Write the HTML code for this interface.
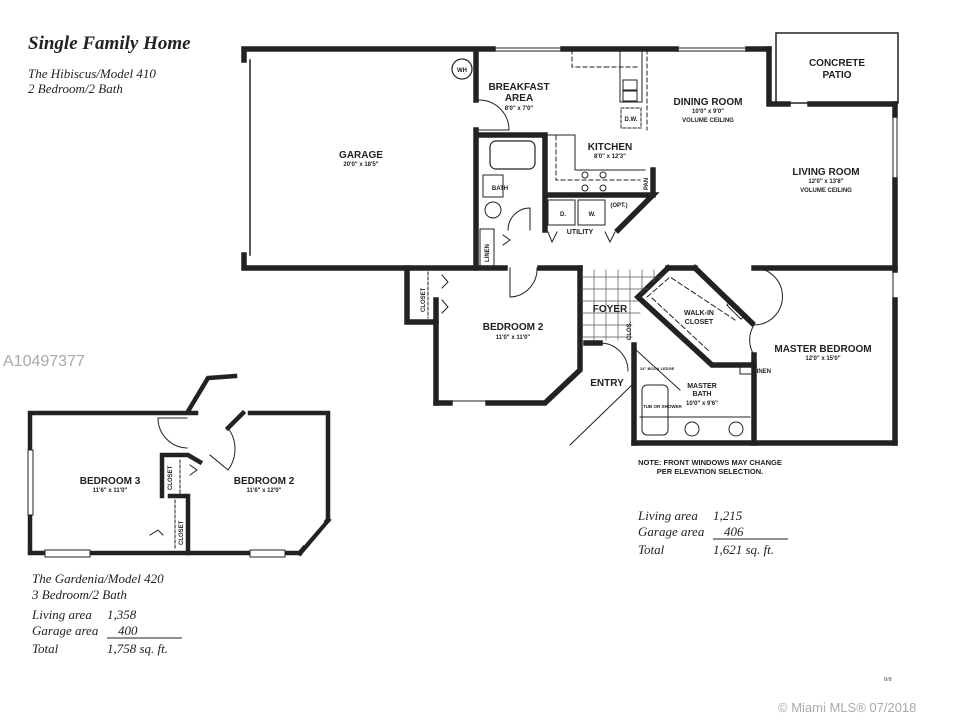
<!DOCTYPE html>
<html><head><meta charset="utf-8"><style>
html,body{margin:0;padding:0;background:#fff;}
svg{display:block;}
.r{font-family:"Liberation Sans",sans-serif;font-weight:bold;fill:#222;}
.s{font-family:"Liberation Serif",serif;font-style:italic;fill:#222;}
</style></head><body>
<svg width="960" height="720" viewBox="0 0 960 720" xmlns="http://www.w3.org/2000/svg">
<rect width="960" height="720" fill="#fff"/>
<text class="s" x="28" y="49" font-size="19" font-weight="bold">Single Family Home</text>
<text class="s" x="28" y="78" font-size="13">The Hibiscus/Model 410</text>
<text class="s" x="28" y="93" font-size="13">2 Bedroom/2 Bath</text>
<text x="3" y="366" font-family="Liberation Sans,sans-serif" font-size="16" fill="#a8a8a8">A10497377</text>

<g stroke="#222" fill="none" stroke-linecap="square">
<g stroke-width="5.5">
<polyline points="244,60 244,49 493,49"/>
<line x1="563" y1="49" x2="676" y2="49"/>
<line x1="748" y1="49" x2="769" y2="49"/>
<polyline points="769,49 769,104 788,104"/>
<line x1="810" y1="104" x2="895" y2="104"/>
<polyline points="244,255 244,268 505,268"/>
<line x1="476" y1="50" x2="476" y2="100"/>
<line x1="476" y1="130" x2="476" y2="268"/>
<line x1="895" y1="104" x2="895" y2="115"/>
<line x1="895" y1="180" x2="895" y2="270"/>
<line x1="895" y1="300" x2="895" y2="443"/>
<polyline points="754,268 895,268"/>
<polyline points="634,443 895,443"/>
<line x1="634" y1="345" x2="634" y2="443"/>
<line x1="540" y1="268" x2="580" y2="268"/>
<polyline points="580,268 580,370 545,403 488,403"/>
<line x1="436" y1="403" x2="450" y2="403"/>
<polyline points="436,403 436,300"/>
<polyline points="407,268 407,322 436,322"/>
<line x1="586" y1="343" x2="600" y2="343"/>
<polyline points="478,135 545,135 545,230"/>
<polyline points="547,195 653,195 618,230"/>
<line x1="653" y1="170" x2="653" y2="195"/>
<polyline points="668,268 638,297 712,365 754,365"/>
<polyline points="668,268 695,268"/>
<line x1="695" y1="268" x2="752" y2="323"/>
<line x1="754" y1="355" x2="754" y2="443"/>
</g>
<line x1="250" y1="60" x2="250" y2="255" stroke-width="1.5"/>
<line x1="493" y1="48" x2="563" y2="48" stroke-width="1"/><line x1="493" y1="51" x2="563" y2="51" stroke-width="1"/>
<line x1="676" y1="48" x2="748" y2="48" stroke-width="1"/><line x1="676" y1="51" x2="748" y2="51" stroke-width="1"/>
<rect x="776" y="33" width="122" height="70" stroke-width="1.5"/>
<line x1="893" y1="115" x2="893" y2="180" stroke-width="1"/><line x1="897" y1="115" x2="897" y2="180" stroke-width="1"/>
<line x1="893" y1="270" x2="893" y2="300" stroke-width="1"/>
<line x1="434" y1="300" x2="434" y2="405" stroke-width="1"/>
<line x1="450" y1="401" x2="488" y2="401" stroke-width="1"/>
<line x1="570" y1="445" x2="632" y2="385" stroke-width="1"/>
<line x1="632" y1="370" x2="632" y2="440" stroke-width="1"/>
<circle cx="462" cy="69" r="10" stroke-width="1.2"/>
<path d="M572,50 L572,67 L605,67 M605,67 L640,67" stroke-width="1" stroke-dasharray="4,3"/>
<rect x="620" y="50" width="22" height="52" stroke-width="1"/>
<rect x="623" y="80" width="14" height="10" stroke-width="1"/><rect x="623" y="91" width="14" height="10" stroke-width="1"/>
<rect x="621" y="108" width="20" height="20" stroke-width="1" stroke-dasharray="3,2"/>
<line x1="647" y1="50" x2="647" y2="130" stroke-width="1" stroke-dasharray="4,3"/>
<path d="M556,136 L556,180 L640,180" stroke-width="1" stroke-dasharray="4,3"/>
<path d="M547,135 L575,135 L575,170 L645,170" stroke-width="1"/>
<circle cx="585" cy="175" r="3" stroke-width="1"/><circle cx="603" cy="175" r="3" stroke-width="1"/>
<circle cx="585" cy="188" r="3" stroke-width="1"/><circle cx="603" cy="188" r="3" stroke-width="1"/>
<rect x="548" y="200" width="27" height="25" stroke-width="1"/><rect x="578" y="200" width="27" height="25" stroke-width="1"/>
<rect x="490" y="141" width="45" height="28" rx="6" stroke-width="1.2"/>
<rect x="483" y="175" width="20" height="22" stroke-width="1"/>
<circle cx="493" cy="210" r="8" stroke-width="1"/>
<rect x="480" y="229" width="14" height="37" stroke-width="1"/>
<path d="M508,230 A22,22 0 0 1 530,208 L530,230" stroke-width="1"/>
<path d="M479,100 A30,30 0 0 1 509,130 L479,130" stroke-width="1"/>
<path d="M510,268 L510,297 A28,28 0 0 0 537,268" stroke-width="1"/>
<path d="M600,343 A28,28 0 0 1 628,371" stroke-width="1"/>
<path d="M754,268 A28,28 0 0 1 754,325" stroke-width="1"/>
<path d="M754,325 A28,28 0 0 0 754,355" stroke-width="1"/>
<line x1="428" y1="272" x2="428" y2="318" stroke-width="1" stroke-dasharray="3,2"/>
<path d="M442,275 L448,282 L442,288 M442,300 L448,307 L442,313" stroke-width="1"/>
<path d="M503,235 L510,240 L503,245" stroke-width="1"/>
<path d="M548,232 L552,242 L557,232 M605,232 L610,242 L615,232" stroke-width="1"/>
<g stroke-width="0.7" stroke="#555">
<line x1="582" y1="277" x2="660" y2="277"/><line x1="582" y1="289" x2="648" y2="289"/><line x1="582" y1="301" x2="638" y2="301"/><line x1="582" y1="313" x2="640" y2="313"/><line x1="582" y1="325" x2="632" y2="325"/><line x1="582" y1="337" x2="632" y2="337"/>
<line x1="594" y1="270" x2="594" y2="340"/><line x1="606" y1="270" x2="606" y2="340"/><line x1="618" y1="270" x2="618" y2="340"/><line x1="630" y1="270" x2="630" y2="340"/><line x1="642" y1="270" x2="642" y2="293"/><line x1="654" y1="270" x2="654" y2="282"/>
</g>
<path d="M647,297 L670,277 L735,320" stroke-width="1" stroke-dasharray="5,3"/>
<path d="M652,298 L710,352" stroke-width="1" stroke-dasharray="5,3"/>
<rect x="733" y="300" width="6" height="20" transform="rotate(-45 736 310)" stroke-width="1"/>
<rect x="642" y="385" width="26" height="50" rx="5" stroke-width="1"/>
<line x1="640" y1="417" x2="750" y2="417" stroke-width="1"/>
<circle cx="692" cy="429" r="7" stroke-width="1"/><circle cx="736" cy="429" r="7" stroke-width="1"/>
<rect x="740" y="365" width="14" height="9" stroke-width="1"/>
<line x1="636" y1="350" x2="680" y2="390" stroke-width="1"/>

<g stroke-width="4.5">
<polyline points="30,550 30,413 187,413 208,378 235,376"/>
<polyline points="250,413 328,413 328,520"/>
<polyline points="243,413 228,428"/>
<polyline points="300,553 30,553"/>
<polyline points="162,496 162,455 188,455 200,462"/>
<polyline points="188,553 188,496 170,496"/>
<line x1="190" y1="413" x2="196" y2="413"/>
</g>
<line x1="300" y1="553" x2="328" y2="520" stroke-width="5"/>
<line x1="304" y1="544" x2="323" y2="522" stroke="#fff" stroke-width="2"/>
<path d="M187,418 L158,418 A30,30 0 0 0 187,448" stroke-width="1"/>
<path d="M228,428 A35,35 0 0 1 228,470 L210,455" stroke-width="1"/>
<path d="M190,465 L197,470 L190,475 M150,535 L158,530 L163,535" stroke-width="1"/>
<line x1="180" y1="460" x2="180" y2="494" stroke-width="1" stroke-dasharray="3,2"/>
<line x1="175" y1="500" x2="175" y2="548" stroke-width="1" stroke-dasharray="3,2"/>
</g>
<rect x="45" y="550" width="45" height="7" fill="#fff" stroke="#222" stroke-width="1"/>
<rect x="250" y="550" width="35" height="7" fill="#fff" stroke="#222" stroke-width="1"/>
<rect x="28" y="450" width="5" height="65" fill="#fff" stroke="#222" stroke-width="1"/>

<g class="r" text-anchor="middle">
<text x="361" y="158" font-size="10">GARAGE</text><text x="361" y="166" font-size="6">20'0" x 18'5"</text>
<text x="519" y="90" font-size="10">BREAKFAST</text><text x="519" y="101" font-size="10">AREA</text><text x="519" y="110" font-size="6">8'0" x 7'0"</text>
<text x="610" y="150" font-size="10">KITCHEN</text><text x="610" y="158" font-size="6">8'0" x 12'3"</text>
<text x="708" y="105" font-size="10">DINING ROOM</text><text x="708" y="113" font-size="6">10'0" x 9'0"</text><text x="708" y="122" font-size="6">VOLUME CEILING</text>
<text x="837" y="66" font-size="10">CONCRETE</text><text x="837" y="78" font-size="10">PATIO</text>
<text x="826" y="175" font-size="10">LIVING ROOM</text><text x="826" y="183" font-size="6">12'0" x 13'8"</text><text x="826" y="192" font-size="6">VOLUME CEILING</text>
<text x="513" y="330" font-size="10">BEDROOM 2</text><text x="513" y="339" font-size="6">11'0" x 11'0"</text>
<text x="610" y="312" font-size="10">FOYER</text>
<text x="607" y="386" font-size="10">ENTRY</text>
<text x="699" y="315" font-size="7">WALK-IN</text><text x="699" y="324" font-size="7">CLOSET</text>
<text x="823" y="352" font-size="10">MASTER BEDROOM</text><text x="823" y="360" font-size="6">12'0" x 15'0"</text>
<text x="702" y="388" font-size="7">MASTER</text><text x="702" y="396" font-size="7">BATH</text><text x="702" y="405" font-size="6">10'0" x 9'6"</text>
<text x="563" y="216" font-size="6">D.</text><text x="592" y="216" font-size="6">W.</text><text x="619" y="207" font-size="6">(OPT.)</text>
<text x="580" y="234" font-size="7">UTILITY</text><text x="500" y="190" font-size="6">BATH</text>
<text x="631" y="121" font-size="6">D.W.</text><text x="462" y="72" font-size="6">WH</text>
<text x="762" y="373" font-size="6">LINEN</text>
<text x="110" y="484" font-size="10">BEDROOM 3</text><text x="110" y="492" font-size="6">11'6" x 11'0"</text>
<text x="264" y="484" font-size="10">BEDROOM 2</text><text x="264" y="492" font-size="6">11'6" x 12'0"</text>
<text x="710" y="465" font-size="7.5">NOTE: FRONT WINDOWS MAY CHANGE</text>
<text x="710" y="474" font-size="7.5">PER ELEVATION SELECTION.</text>
</g>
<g class="r" font-size="6">
<text transform="translate(425,312) rotate(-90)">CLOSET</text>
<text transform="translate(489,262) rotate(-90)">LINEN</text>
<text transform="translate(648,190) rotate(-90)">PAN</text>
<text transform="translate(631,340) rotate(-90)">CLOS.</text>
<text transform="translate(172,490) rotate(-90)">CLOSET</text>
<text transform="translate(183,545) rotate(-90)">CLOSET</text>
</g>
<text class="r" x="640" y="370" font-size="4">24" BOOK LEDGE</text>
<text class="r" x="643" y="408" font-size="4.5">TUB OR SHOWER</text>

<g class="s" font-size="13">
<text x="32" y="583">The Gardenia/Model 420</text>
<text x="32" y="599">3 Bedroom/2 Bath</text>
<text x="32" y="619">Living area</text><text x="107" y="619">1,358</text>
<text x="32" y="635">Garage area</text><text x="118" y="635">400</text>
<text x="32" y="653">Total</text><text x="107" y="653">1,758 sq. ft.</text>
<text x="638" y="520">Living area</text><text x="713" y="520">1,215</text>
<text x="638" y="536">Garage area</text><text x="724" y="536">406</text>
<text x="638" y="554">Total</text><text x="713" y="554">1,621 sq. ft.</text>
</g>
<line x1="107" y1="638" x2="182" y2="638" stroke="#222" stroke-width="1"/>
<line x1="713" y1="539" x2="788" y2="539" stroke="#222" stroke-width="1"/>
<text x="884" y="681" font-family="Liberation Serif,serif" font-size="6" fill="#444">8/8</text>
<text x="778" y="712" font-family="Liberation Sans,sans-serif" font-size="13" fill="#aaa">© Miami MLS® 07/2018</text>
</svg>
</body></html>
